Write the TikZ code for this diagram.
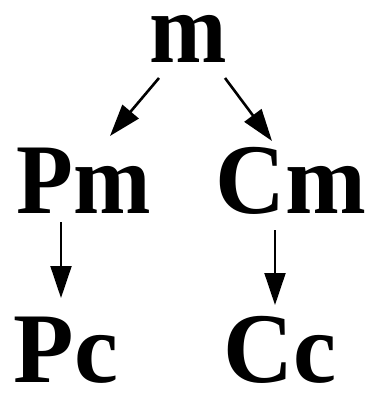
\documentclass[tikz,border=0pt]{standalone}
\usepackage{fontspec}
\setmainfont{Liberation Serif}
\usetikzlibrary{arrows.meta}
\newcommand\sqz[2]{\scalebox{#1}[1]{#2}}
\begin{document}
\begin{tikzpicture}[x=1pt,y=-1pt,
  lbl/.style={anchor=base,inner sep=0pt,font=\fontsize{100}{100}\selectfont\bfseries},
  arr/.style={line width=2.6pt,-{Triangle[length=32pt,width=21pt]}}]
\useasboundingbox (0,0) rectangle (369,403);
\node[lbl] (m) at (188,63) {\sqz{0.93}{m}};
\node[lbl] (Pm) at (84,213) {\sqz{0.93}{Pm}};
\node[lbl] (Cm) at (291,213) {\sqz{0.97}{Cm}};
\node[lbl] (Pc) at (66,382) {\sqz{0.99}{Pc}};
\node[lbl] (Cc) at (280,382) {\sqz{0.97}{Cc}};
\coordinate (a1) at (159,78);  \coordinate (b1) at (110,136);
\coordinate (a2) at (225,78);  \coordinate (b2) at (272,141);
\coordinate (a3) at (61,222);  \coordinate (b3) at (61,298);
\coordinate (a4) at (275,230); \coordinate (b4) at (275,305);
\draw[arr] (a1) -- (b1);
\draw[arr] (a2) -- (b2);
\draw[arr,line width=2pt] (a3) -- (b3);
\draw[arr,line width=2pt] (a4) -- (b4);
\end{tikzpicture}
\end{document}
